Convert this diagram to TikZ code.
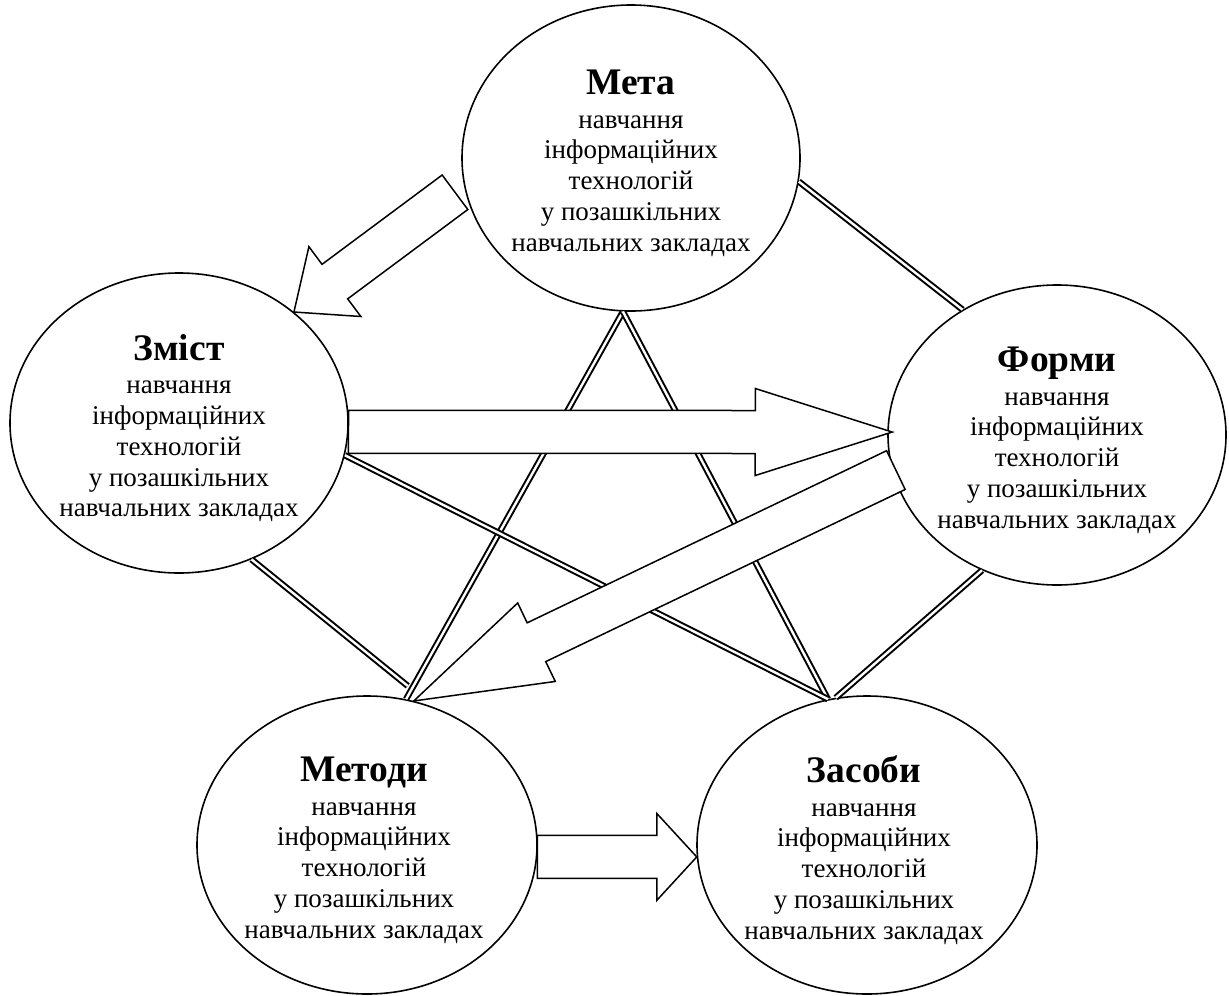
\documentclass[tikz,border=0pt]{standalone}
\usepackage{fontspec}
\setmainfont{Liberation Serif}
\usetikzlibrary{shapes.geometric,calc}
\tikzset{
  ell/.style={draw, ellipse, line width=1.6pt, fill=white, inner sep=0pt, minimum width=338pt, minimum height=300pt},
  etext/.style={align=center, font=\fontsize{27}{30.75}\selectfont, inner sep=0pt},
  dbl/.style={draw, double, line width=2pt, double distance=2.4pt},
  blk/.style={draw, line width=1.5pt, fill=white, line join=miter},
}
\newcommand\elltitle[1]{{\fontsize{37.5}{37.5}\selectfont\bfseries #1}\\[3pt]}
\newcommand\ellbody{навчання\\інформаційних\\технологій\\у позашкільних\\навчальних закладах}
\newcommand\blkarrow[4]{% name, tail, tip, head length
  \coordinate (#1-c) at ($(#3)!#4!(#2)$);
  \draw[blk] ($(#2)!21.5pt!90:(#3)$) -- ($(#1-c)!21.5pt!90:(#3)$) -- ($(#1-c)!43.5pt!90:(#3)$) -- (#3)
    -- ($(#1-c)!43.5pt!-90:(#3)$) -- ($(#1-c)!21.5pt!-90:(#3)$) -- ($(#2)!21.5pt!-90:(#3)$) -- cycle;
}
\begin{document}
\begin{tikzpicture}[x=1pt,y=-1pt]
\useasboundingbox (0,0) rectangle (1229,996);
% ellipses
\node[ell, minimum height=306pt] (meta) at (631,158) {};
\node[ell] (zmist) at (179,423) {};
\node[ell] (formy) at (1057,435) {};
\node[ell, minimum width=340pt, minimum height=298pt] (metody) at (367,845) {};
\node[ell, minimum width=340pt, minimum height=298pt] (zasoby) at (867,845) {};
% double connectors
\draw[dbl] (meta.-93) -- (metody.75);
\draw[dbl] (meta.-93) -- (zasoby.105);
\draw[dbl] (zmist.-11) -- (zasoby.105);
\draw[dbl, shorten >=34pt] (zmist.-62) -- (metody.64);
\draw[dbl] (meta.-8) -- (formy.127);
\draw[dbl] (formy.-119) -- (zasoby.102);
% block arrows
\coordinate (a1t) at ($(meta.191)+(-10,2)$);
\blkarrow{a1}{a1t}{zmist.44}{51pt}
\coordinate (a2h) at ($(formy.179)+(5,0)$);
\blkarrow{a2}{zmist.-3}{a2h}{137pt}
\coordinate (a3t) at ($(formy.192)+(4,0)$);
\blkarrow{a3}{a3t}{metody.72}{136pt}
\blkarrow{a4}{metody.-4}{zasoby.184}{40pt}
% texts
\node[etext] (meta-t) at ($(meta)+(0,5)$) {\elltitle{Мета}\ellbody};
\node[etext] (zmist-t) at ($(zmist)+(0,5)$) {\elltitle{Зміст}\ellbody};
\node[etext] (formy-t) at ($(formy)+(0,5)$) {\elltitle{Форми}\ellbody};
\node[etext] (metody-t) at ($(metody)+(-3,5)$) {\elltitle{Методи}\ellbody};
\node[etext] (zasoby-t) at ($(zasoby)+(-3,5)$) {\elltitle{Засоби}\ellbody};
\end{tikzpicture}
\end{document}
